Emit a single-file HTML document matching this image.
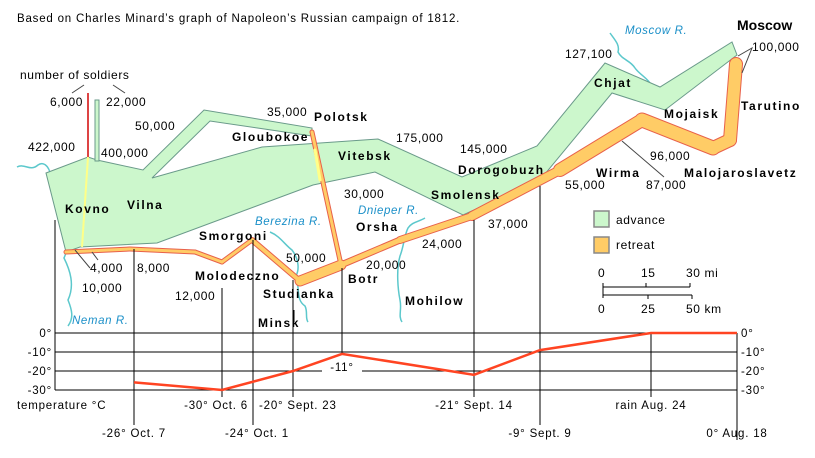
<!DOCTYPE html>
<html><head><meta charset="utf-8"><style>
body{margin:0;background:#fff;}
svg{display:block;font-family:"Liberation Sans",sans-serif;}
.t{font-size:12px;fill:#000;letter-spacing:0.6px;}
.b{font-size:12px;font-weight:bold;fill:#000;letter-spacing:1.6px;}
.r{font-size:11.5px;font-style:italic;fill:#1a8fc8;letter-spacing:0.6px;}
.s{font-size:11.5px;fill:#000;letter-spacing:0.8px;}
</style></head><body>
<svg id="c" width="815" height="458" viewBox="0 0 815 458">
<text x="17" y="22" class="t" style="font-size:11.5px;letter-spacing:0.8px">Based on Charles Minard’s graph of Napoleon’s Russian campaign of 1812.</text>

<g fill="none" stroke="#5cc8cc" stroke-width="1.5">
<path d="M17,167 C25,163 30,172 38,165 C45,160 52,170 50,180 C55,195 62,205 60,220 C65,235 70,245 64,258 C70,270 75,285 68,300 C72,310 74,318 68,326"/>
<path d="M270,232 C280,236 285,245 292,250 C298,258 300,268 296,276 C300,290 296,300 305,306 C308,312 305,318 308,322"/>
<path d="M425,218 C418,222 412,222 408,228 C404,236 404,246 400,256 C396,270 398,290 400,300 C402,310 398,316 402,322"/>
<path d="M610,33 C615,40 620,45 618,52 C622,60 630,60 635,68 C640,75 648,78 652,86"/>
</g>

<polygon fill="#ccf7cc" stroke="#6a9a8a" stroke-width="1"
 points="46,173 88,157 97,160 143,170 204,110 312,128 312,136 210,121 152,178 262,147 378,139 462,177 537,146 605,63 660,87 732,42 737,55 665,110 612,93 540,180 463,215 375,172 313,185 157,243 80,247 66,252"/>
<line x1="88" y1="93" x2="88" y2="157" stroke="#d44" stroke-width="2"/>
<polygon points="95,100 99,100 99,161 95,161" fill="#ccf7cc" stroke="#6a9a8a" stroke-width="1"/>
<line x1="88" y1="157" x2="82" y2="247" stroke="#ffff88" stroke-width="2"/>

<g id="retreat" fill="none" stroke-linejoin="miter"></g>

<g stroke="#444" stroke-width="1" fill="none">
<line x1="72" y1="93" x2="84" y2="85"/><line x1="113" y1="85" x2="125" y2="93"/>
<line x1="75" y1="250" x2="90" y2="268"/><line x1="92" y1="252" x2="98" y2="260"/>
<polyline points="738,56 752,48 742,73"/><line x1="622" y1="141" x2="664" y2="177"/>
</g>

<g id="temp"></g>

<g>
<text x="20" y="79" class="t">number of soldiers</text>
<text x="50" y="106" class="t">6,000</text><text x="106" y="106" class="t">22,000</text>
<text x="28" y="151" class="t">422,000</text><text x="101" y="157" class="t">400,000</text>
<text x="135" y="130" class="t">50,000</text><text x="267" y="116" class="t">35,000</text>
<text x="396" y="142" class="t">175,000</text><text x="460" y="153" class="t">145,000</text>
<text x="565" y="58" class="t">127,100</text><text x="752" y="51" class="t">100,000</text>
<text x="344" y="198" class="t">30,000</text><text x="422" y="248" class="t">24,000</text>
<text x="488" y="228" class="t">37,000</text><text x="565" y="189" class="t">55,000</text>
<text x="646" y="189" class="t">87,000</text><text x="650" y="160" class="t">96,000</text>
<text x="366" y="269" class="t">20,000</text><text x="286" y="262" class="t">50,000</text>
<text x="90" y="272" class="t">4,000</text><text x="137" y="272" class="t">8,000</text>
<text x="82" y="292" class="t">10,000</text><text x="175" y="300" class="t">12,000</text>
<text x="314" y="121" class="b">Polotsk</text><text x="232" y="141" class="b">Gloubokoe</text>
<text x="338" y="160" class="b">Vitebsk</text><text x="65" y="213" class="b">Kovno</text>
<text x="127" y="209" class="b">Vilna</text><text x="199" y="240" class="b">Smorgoni</text>
<text x="195" y="280" class="b">Molodeczno</text><text x="263" y="298" class="b">Studianka</text>
<text x="258" y="327" class="b">Minsk</text><text x="348" y="283" class="b">Botr</text>
<text x="356" y="231" class="b">Orsha</text><text x="405" y="305" class="b">Mohilow</text>
<text x="431" y="199" class="b">Smolensk</text><text x="458" y="174" class="b">Dorogobuzh</text>
<text x="596" y="177" class="b">Wirma</text><text x="594" y="87" class="b">Chjat</text>
<text x="664" y="118" class="b">Mojaisk</text><text x="741" y="110" class="b">Tarutino</text>
<text x="684" y="177" class="b">Malojaroslavetz</text>
<text x="737" y="30" class="b" style="font-size:14px;letter-spacing:0">Moscow</text>
<text x="72" y="324" class="r">Neman R.</text><text x="255" y="225" class="r">Berezina R.</text>
<text x="358" y="214" class="r">Dnieper R.</text><text x="625" y="34" class="r">Moscow R.</text>
</g>

<g>
<rect x="594" y="211" width="15" height="16" fill="#ccf7cc" stroke="#888" stroke-width="1.5"/>
<text x="616" y="224" class="t">advance</text>
<rect x="594" y="237" width="15" height="16" fill="#ffcc66" stroke="#888" stroke-width="1.5"/>
<text x="616" y="249" class="t">retreat</text>
</g>
<g stroke="#000" stroke-width="1">
<text x="598" y="277" class="t" stroke="none">0</text><text x="641" y="277" class="t" stroke="none">15</text><text x="686" y="277" class="t" stroke="none">30 mi</text>
<line x1="603" y1="287" x2="690" y2="287"/><line x1="603" y1="283" x2="603" y2="298"/><line x1="646" y1="283" x2="646" y2="287"/><line x1="690" y1="283" x2="690" y2="287"/>
<line x1="603" y1="295" x2="692" y2="295"/><line x1="648" y1="295" x2="648" y2="299"/><line x1="692" y1="295" x2="692" y2="299"/>
<text x="598" y="313" class="t" stroke="none">0</text><text x="641" y="313" class="t" stroke="none">25</text><text x="686" y="313" class="t" stroke="none">50 km</text>
</g>
</svg>
<script>
const retreatX=[736,730,713,642,560,472,400,341,300,252,222,195,130,66];
const retreatY=[64,140,148,120,170,216,240,265,281,240,262,252,249,252];
const retreatW=[12,12,13,12,8,6,5,9,4,3,3,3,3];
const polotskX=[312,341];const polotskY=[132,265];
const NS="http://www.w3.org/2000/svg";
const rg=document.getElementById('retreat');
function seg(x1,y1,x2,y2,w,col,parent){const l=document.createElementNS(NS,'line');
l.setAttribute('x1',x1);l.setAttribute('y1',y1);l.setAttribute('x2',x2);l.setAttribute('y2',y2);
l.setAttribute('stroke',col);l.setAttribute('stroke-width',w);l.setAttribute('stroke-linecap','round');


parent.appendChild(l);}
for(let i=0;i<retreatW.length;i++)seg(retreatX[i],retreatY[i],retreatX[i+1],retreatY[i+1],retreatW[i]+2,'#e8604a',rg);
seg(polotskX[0],polotskY[0],polotskX[1],polotskY[1],5,'#e8604a',rg);
for(let i=0;i<retreatW.length;i++)seg(retreatX[i],retreatY[i],retreatX[i+1],retreatY[i+1],retreatW[i],'#ffcc66',rg);
seg(polotskX[0],polotskY[0],polotskX[1],polotskY[1],3,'#ffcc66',rg);
seg(315,150,320,180,3,'#ffff88',rg);

const tempX=[134,222,293,342,474,540,651,737];
const tempVals=[-26,-30,-20,-11,-22,-9,0,0];
const tempTicks=[0,-10,-20,-30];
const tempLabels=["-26° Oct. 7","-30° Oct. 6","-20° Sept. 23","","-21° Sept. 14","-9° Sept. 9","rain Aug. 24","0° Aug. 18"];
const labelRow=[2,1,1,0,1,2,1,2];
const labelAnchor=['middle','end','start','middle','middle','middle','middle','middle'];
const labelShift=[0,26,-34,0,0,0,0,0];
const lineTop=[249,288,280,268,220,186,333,333];
const extraX=253,extraLabel="-24° Oct. 1";
const tg=document.getElementById('temp');
const y=v=>333+(-v)*1.9;
function mk(tag,attrs,name,txt){const e=document.createElementNS(NS,tag);for(const k in attrs)e.setAttribute(k,attrs[k]);


if(txt!==undefined)e.textContent=txt;tg.appendChild(e);return e;}
tempTicks.forEach(t=>{
 if(t===-20){mk('line',{x1:55,y1:y(t),x2:322,y2:y(t),stroke:'#000'},'grid-line');mk('line',{x1:362,y1:y(t),x2:737,y2:y(t),stroke:'#000'},'grid-line');}
 else mk('line',{x1:55,y1:y(t),x2:737,y2:y(t),stroke:'#000'},'grid-line');
 mk('text',{x:52,y:y(t)+4,'text-anchor':'end',class:'s'},'y-tick-left',t+'°');
 mk('text',{x:741,y:y(t)+4,class:'s'},'y-tick-right',t+'°');
});
mk('line',{x1:55,y1:220,x2:55,y2:y(-30),stroke:'#000'},'left-axis');
mk('line',{x1:737,y1:y(0),x2:737,y2:440,stroke:'#000'},'right-axis');
const rowY=[0,409,437];
tempX.forEach((x,i)=>{
 const bot=labelRow[i]?rowY[labelRow[i]]-12:y(tempVals[i]);
 mk('line',{x1:x,y1:lineTop[i],x2:x,y2:bot,stroke:'#000'},'date-line');
 if(tempLabels[i])mk('text',{x:x+labelShift[i],y:rowY[labelRow[i]],'text-anchor':labelAnchor[i],class:'s'},'date-label',tempLabels[i]);
});
mk('line',{x1:extraX,y1:240,x2:extraX,y2:425,stroke:'#000'},'date-line');
mk('text',{x:extraX+4,y:437,'text-anchor':'middle',class:'s'},'date-label',extraLabel);
mk('line',{x1:294,y1:310,x2:294,y2:322,stroke:'#000'},'minsk-tick');
mk('text',{x:17,y:409,class:'s'},'temperature-axis-title','temperature °C');
mk('text',{x:342,y:371,'text-anchor':'middle',class:'s'},'temp-annotation','-11°');
mk('polyline',{points:tempX.map((x,i)=>x+','+y(tempVals[i])).join(' '),fill:'none',stroke:'#ff4422','stroke-width':2.5},'temperature-line');
</script>
</body></html>
